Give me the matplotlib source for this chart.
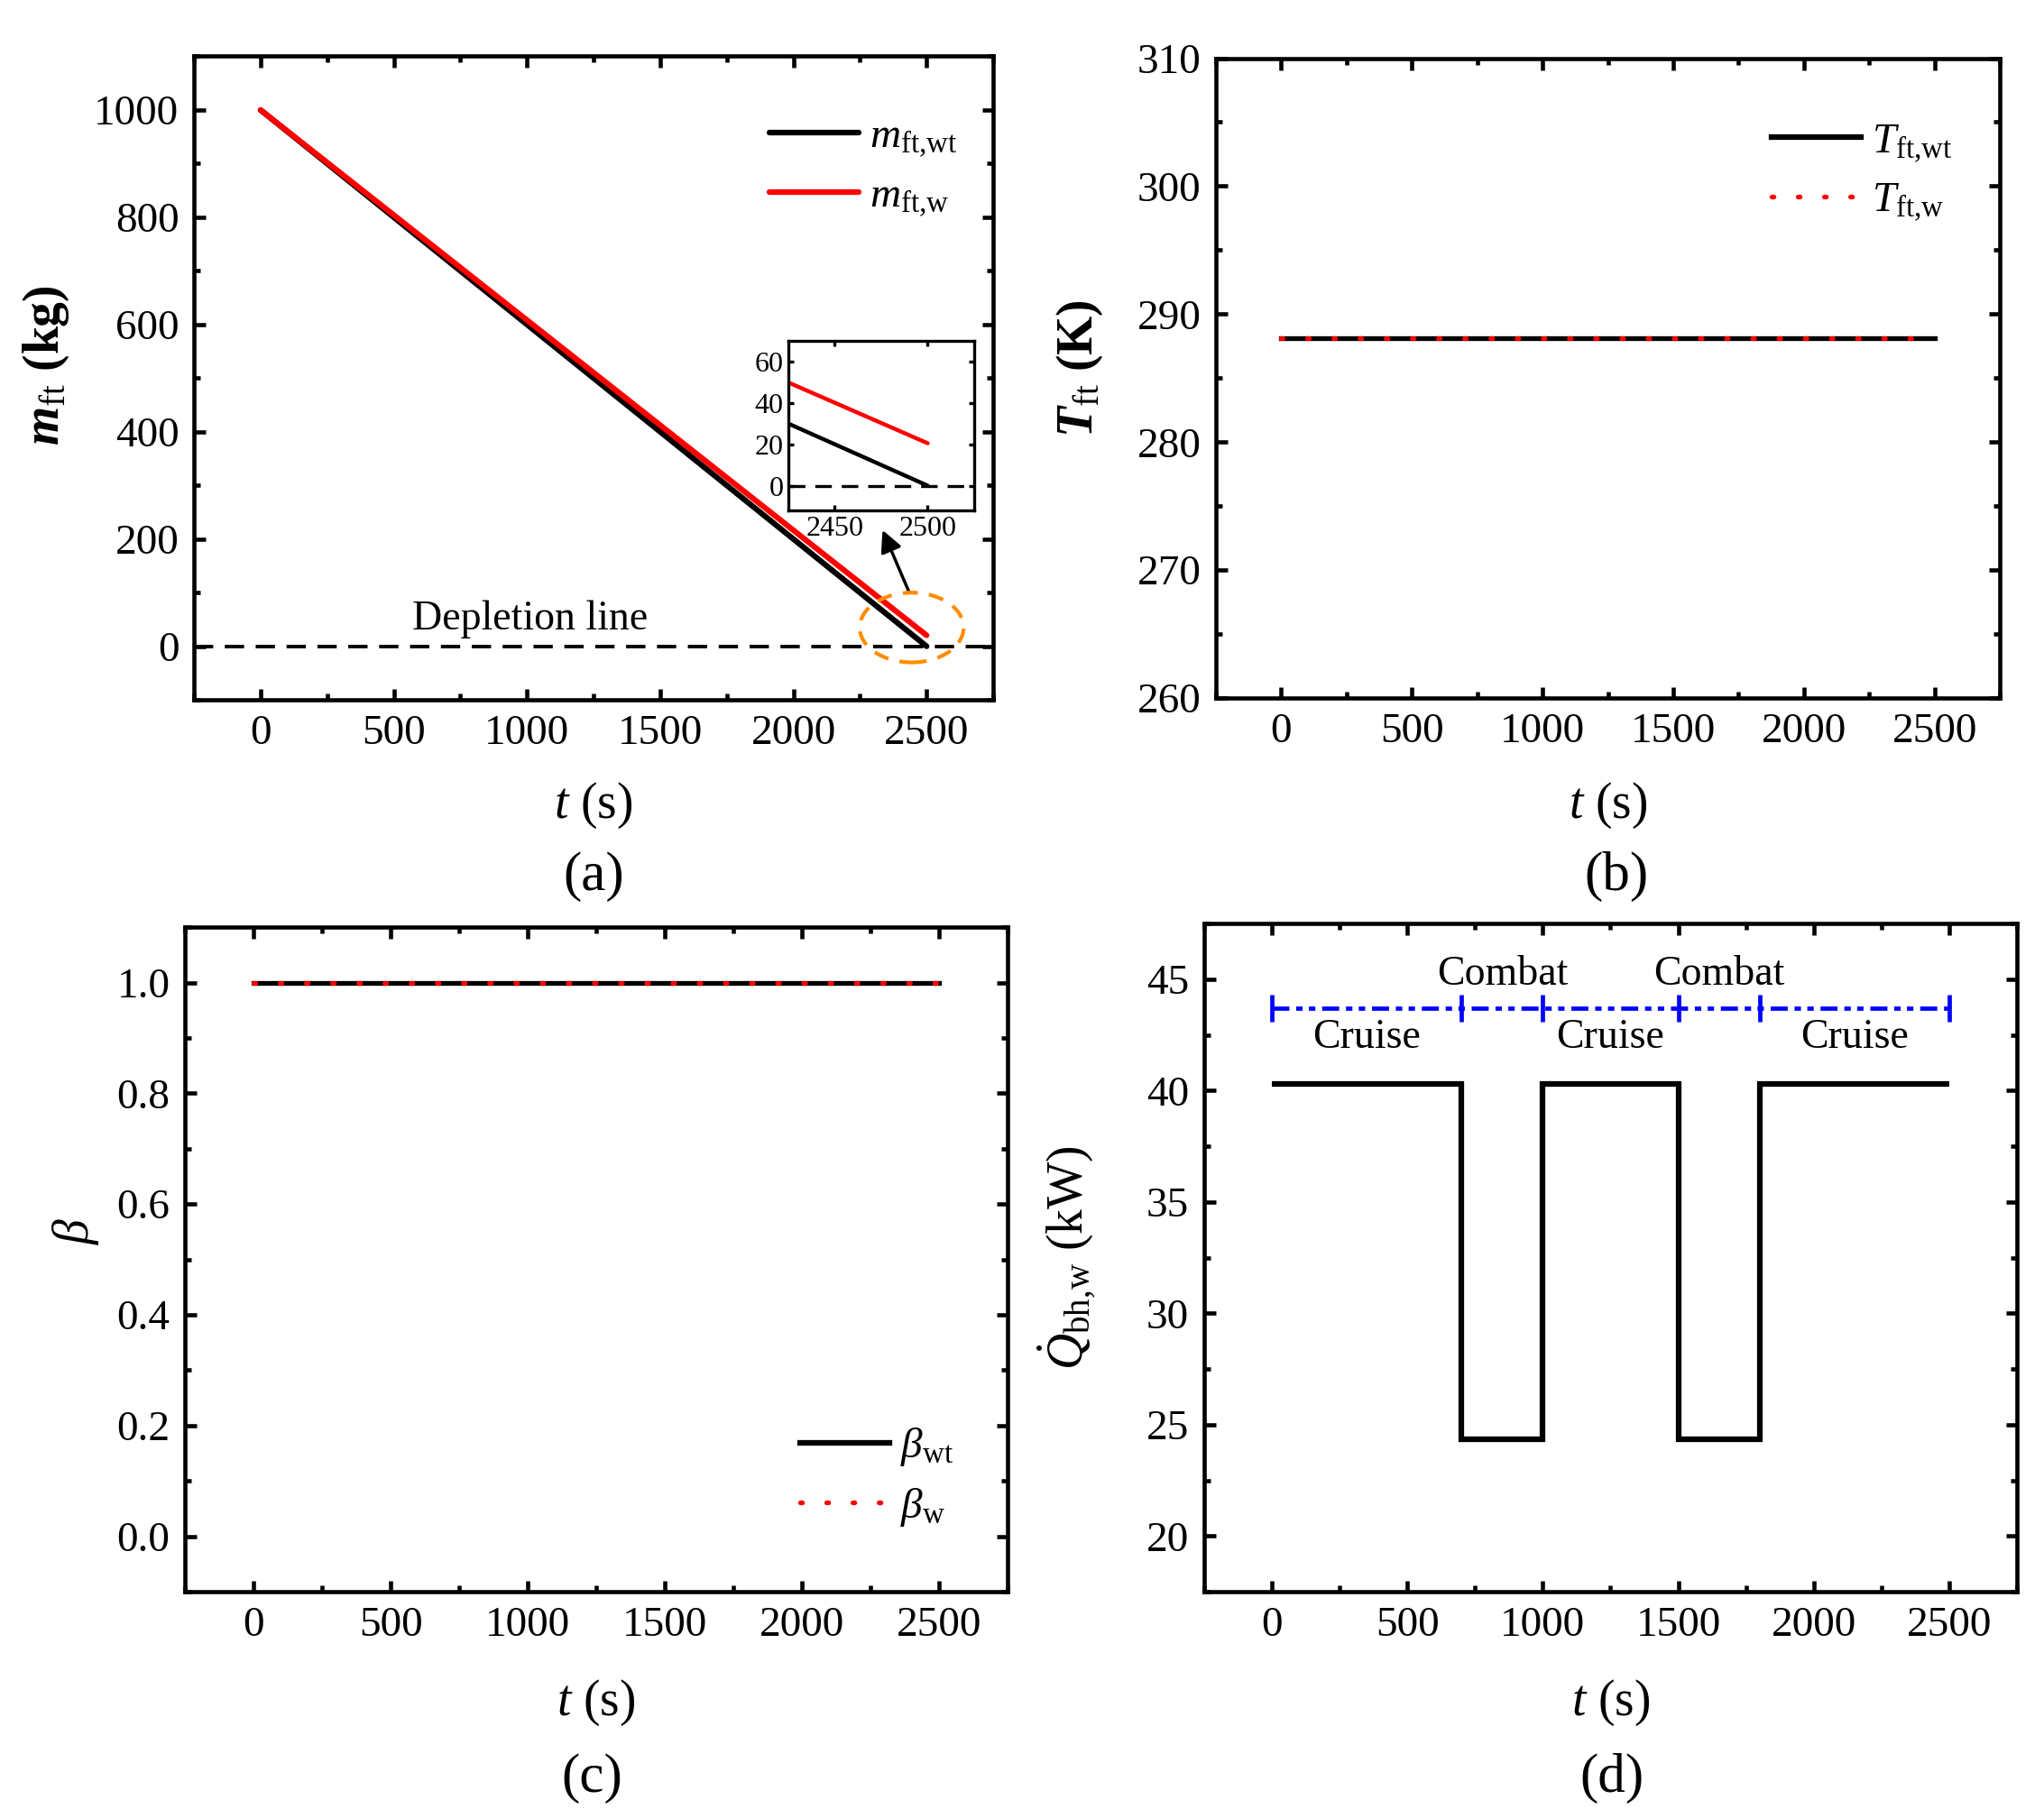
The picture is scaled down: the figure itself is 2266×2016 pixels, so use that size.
import numpy as np
import matplotlib
matplotlib.use("Agg")
import matplotlib.pyplot as plt
from matplotlib.ticker import MultipleLocator, FormatStrFormatter
from matplotlib.patches import Ellipse

plt.rcParams["font.family"] = ["Liberation Serif", "DejaVu Serif"]
plt.rcParams["mathtext.fontset"] = "custom"
plt.rcParams["mathtext.rm"] = "Liberation Serif"
plt.rcParams["mathtext.it"] = "Liberation Serif:italic"
plt.rcParams["mathtext.bf"] = "Liberation Serif:bold"
plt.rcParams["mathtext.bfit"] = "Liberation Serif:italic:bold"

# data
t = [0, 2500]
m_wt = [1000, 0]
m_w = [1000, 20.5]
T_wt = [288.15, 288.15]
T_w = [288.15, 288.15]
beta_wt = [1.0, 1.0]
beta_w = [1.0, 1.0]
phase_edges = [0, 700, 1000, 1500, 1800, 2500]
q_bh = [40.3, 24.35, 40.3, 24.35, 40.3]
phase_names = ["Cruise", "Combat", "Cruise", "Combat", "Cruise"]
phase_bar_y = 43.7

TICK_FS = 34
TEXT_FS = 33
LABEL_FS = 40
LEG_FS = 34
CAP_FS = 44
LW = 4.5
FLAT_LW = 3.8
RED_DOT = (0, (0.4, 5.1))


def style_axes(ax, xmin_step, ymaj, ymin):
    for s in ax.spines.values():
        s.set_linewidth(3.3)
    ax.tick_params(which="both", direction="in", top=True, right=True,
                   labelsize=TICK_FS, width=3.3, pad=12)
    ax.tick_params(which="major", length=9)
    ax.tick_params(which="minor", length=5)
    ax.xaxis.set_major_locator(MultipleLocator(500))
    ax.xaxis.set_minor_locator(MultipleLocator(xmin_step))
    ax.yaxis.set_major_locator(MultipleLocator(ymaj))
    ax.yaxis.set_minor_locator(MultipleLocator(ymin))
    ax.set_xlim(-250, 2750)


def set_labels(ax, xlab, ylab, ylab_x, ylab_y, xlab_y, bold=False):
    ax.set_xlabel(xlab, fontsize=LABEL_FS)
    ax.set_ylabel(ylab, fontsize=LABEL_FS, fontweight="bold" if bold else "normal")
    ax.xaxis.set_label_coords(0.5, xlab_y)
    ax.xaxis.label.set_va("center")
    ax.yaxis.set_label_coords(ylab_x, ylab_y)
    ax.yaxis.label.set_va("center")


def add_legend(ax, loc, anchor):
    leg = ax.legend(loc=loc, bbox_to_anchor=anchor, frameon=False, fontsize=LEG_FS,
                    handlelength=2.1, handletextpad=0.25, labelspacing=0.42,
                    borderpad=0, borderaxespad=0)
    # solid handles drawn a bit heavier, dotted ones keep their dot spacing
    for line in leg.get_lines():
        if line.get_linestyle() == "-":
            line.set_linewidth(LW)


fig = plt.figure(figsize=(22.66, 20.16), dpi=100)

# (a) fuel mass
ax_a = fig.add_axes([0.0949, 0.615, 0.391, 0.354])
ax_a.plot(t, m_wt, color="black", lw=LW, solid_capstyle="round", label=r"$m_{\mathrm{ft{,}wt}}$", zorder=3)
ax_a.plot(t, m_w, color="red", lw=LW, solid_capstyle="round", label=r"$m_{\mathrm{ft{,}w}}$", zorder=4)
ax_a.axhline(0, color="black", lw=2.8, linestyle=(0, (5.5, 3.3)), zorder=2)
ax_a.text(1010, 50, "Depletion line", fontsize=TEXT_FS, ha="center", va="center")
ax_a.add_patch(Ellipse((2444, 35), 390, 130, fill=False, edgecolor="#FF8C00",
                       lw=3, linestyle=(0, (4, 3)), zorder=5))
ax_a.annotate("", xy=(2331, 221), xytext=(2436, 99),
              arrowprops=dict(arrowstyle="-|>", color="black", lw=2.5, mutation_scale=36))
style_axes(ax_a, 250, 200, 100)
ax_a.set_ylim(-100, 1100)
set_labels(ax_a, r"$t$ (s)", r"$\mathbfit{m}_{\mathrm{ft}}$ (kg)", -0.185, 0.52, -0.164, bold=True)
add_legend(ax_a, "upper right", (0.955, 0.905))

# inset
ax_in = fig.add_axes([0.3857, 0.7192, 0.0909, 0.0933])
ax_in.plot(t, m_wt, color="black", lw=3.2, solid_capstyle="round")
ax_in.plot(t, m_w, color="red", lw=3.2, solid_capstyle="round")
ax_in.axhline(0, color="black", lw=2.4, linestyle=(0, (5.5, 3.3)))
ax_in.set_xlim(2425, 2525)
ax_in.set_ylim(-12, 70)
ax_in.set_xticks([2450, 2500])
ax_in.set_yticks([0, 20, 40, 60])
for s in ax_in.spines.values():
    s.set_linewidth(2.4)
ax_in.tick_params(direction="in", top=True, right=True, labelsize=23, length=4, width=2.4, pad=4)

# (b) fuel temperature
ax_b = fig.add_axes([0.5949, 0.616, 0.3835, 0.352])
ax_b.plot(t, T_wt, color="black", lw=FLAT_LW, label=r"$T_{\mathrm{ft{,}wt}}$")
ax_b.plot(t, T_w, color="red", lw=FLAT_LW, linestyle=RED_DOT, dash_capstyle="round",
          label=r"$T_{\mathrm{ft{,}w}}$")
style_axes(ax_b, 250, 10, 5)
ax_b.set_ylim(260, 310)
set_labels(ax_b, r"$t$ (s)", r"$\mathbfit{T}_{\mathrm{ft}}$ (K)", -0.173, 0.515, -0.168, bold=True)
add_legend(ax_b, "upper right", (0.94, 0.9))

# (c) beta
ax_c = fig.add_axes([0.0905, 0.1245, 0.4024, 0.3655])
ax_c.plot(t, beta_wt, color="black", lw=FLAT_LW, label=r"$\beta_{\mathrm{wt}}$")
ax_c.plot(t, beta_w, color="red", lw=FLAT_LW, linestyle=RED_DOT, dash_capstyle="round",
          label=r"$\beta_{\mathrm{w}}$")
style_axes(ax_c, 250, 0.2, 0.1)
ax_c.set_ylim(-0.1, 1.1)
ax_c.yaxis.set_major_formatter(FormatStrFormatter("%.1f"))
set_labels(ax_c, r"$t$ (s)", r"$\beta$", -0.133, 0.543, -0.167)
add_legend(ax_c, "lower right", (0.934, 0.095))

# (d) heat load
ax_d = fig.add_axes([0.5891, 0.1245, 0.3977, 0.3675])
ax_d.stairs(q_bh, phase_edges, baseline=None, color="black", lw=LW)
ax_d.plot([phase_edges[0], phase_edges[-1]], [phase_bar_y, phase_bar_y], color="blue", lw=3.4,
          linestyle=(0, (4, 1.6, 1.5, 1.5, 1.5, 1.6)))
ax_d.vlines(phase_edges, phase_bar_y - 0.6, phase_bar_y + 0.6, color="blue", lw=3.4)
for i, name in enumerate(phase_names):
    xc = 0.5 * (phase_edges[i] + phase_edges[i + 1])
    yc = 45.2 if name == "Combat" else 42.36
    ax_d.text(xc, yc, name, fontsize=TEXT_FS, ha="center", va="center")
style_axes(ax_d, 250, 5, 2.5)
ax_d.set_ylim(17.5, 47.5)
set_labels(ax_d, r"$t$ (s)", r"$\dot{Q}_{\mathrm{bh{,}w}}$ (kW)", -0.168, 0.5, -0.166)

fig.text(0.2904, 0.518, "(a)", fontsize=CAP_FS, ha="center", va="center")
fig.text(0.791, 0.518, "(b)", fontsize=CAP_FS, ha="center", va="center")
fig.text(0.2897, 0.022, "(c)", fontsize=CAP_FS, ha="center", va="center")
fig.text(0.7885, 0.022, "(d)", fontsize=CAP_FS, ha="center", va="center")

fig.savefig("out.png", dpi=100)
